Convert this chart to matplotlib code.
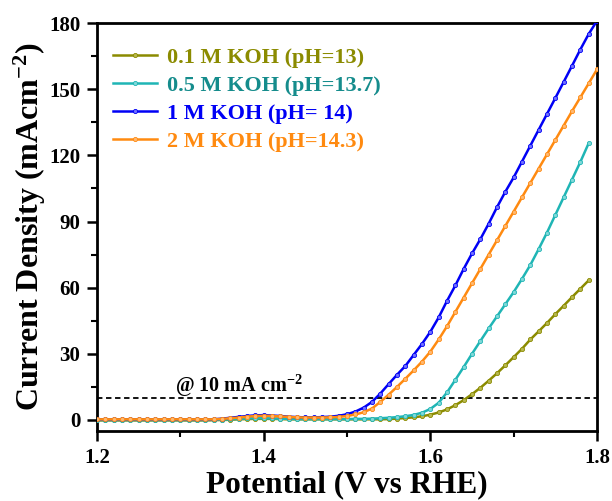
import matplotlib
matplotlib.use("Agg")
import matplotlib.pyplot as plt
from matplotlib.ticker import MultipleLocator

potential = [round(1.20 + 0.01 * i, 2) for i in range(61)]

# 1 M KOH (pH=14), 1.20 .. 1.80
j_1M = [0.3, 0.3, 0.3, 0.3, 0.3, 0.3, 0.3, 0.3, 0.3, 0.3,
        0.3, 0.3, 0.3, 0.3, 0.3, 0.6, 1.0, 1.4, 1.8, 2.1,
        2.2, 2.0, 1.8, 1.5, 1.3, 1.2, 1.2, 1.3, 1.5, 1.9,
        2.6, 3.8, 5.6, 8.2, 12.0, 16.3, 20.5, 24.5, 29.5, 34.5,
        40.0, 46.5, 54.0, 61.0, 68.5, 75.5, 82.0, 89.0, 96.5, 103.5,
        110.0, 117.2, 124.4, 131.6, 138.8, 146.0, 153.3, 160.6, 168.0, 175.0,
        181.0]

# 2 M KOH (pH=14.3), 1.20 .. 1.80
j_2M = [0.3, 0.3, 0.3, 0.3, 0.3, 0.3, 0.3, 0.3, 0.3, 0.3,
        0.3, 0.3, 0.3, 0.3, 0.3, 0.5, 0.8, 1.1, 1.5, 1.8,
        1.9, 1.8, 1.6, 1.4, 1.2, 1.1, 1.1, 1.1, 1.2, 1.4,
        1.8, 2.5, 3.5, 5.2, 8.2, 11.5, 15.0, 18.7, 22.5, 26.5,
        31.0, 36.5, 42.5, 49.0, 55.5, 62.0, 68.5, 75.0, 81.5, 88.0,
        94.5, 101.0, 107.5, 114.0, 120.5, 127.0, 133.5, 140.0, 146.3, 152.6,
        159.0]

# 0.5 M KOH (pH=13.7), 1.20 .. 1.79
j_05M = [0.0, 0.0, 0.0, 0.0, 0.0, 0.0, 0.0, 0.0, 0.0, 0.0,
         0.0, 0.0, 0.0, 0.0, 0.1, 0.2, 0.3, 0.5, 0.7, 0.8,
         0.8, 0.7, 0.6, 0.5, 0.4, 0.4, 0.4, 0.4, 0.4, 0.4,
         0.4, 0.5, 0.5, 0.6, 0.8, 1.0, 1.3, 1.7, 2.3, 3.3,
         5.0, 7.8, 12.5, 18.2, 24.0, 30.0, 35.8, 41.5, 47.0, 52.5,
         58.0, 64.0, 70.3, 77.5, 85.0, 93.0, 101.0, 109.0, 117.0, 125.5]

# 0.1 M KOH (pH=13), 1.20 .. 1.79
j_01M = [-0.2, -0.2, -0.2, -0.2, -0.2, -0.2, -0.2, -0.2, -0.2, -0.2,
         -0.2, -0.2, -0.2, -0.2, -0.1, 0.0, 0.1, 0.3, 0.4, 0.5,
         0.5, 0.5, 0.4, 0.3, 0.3, 0.3, 0.3, 0.3, 0.3, 0.3,
         0.3, 0.3, 0.3, 0.3, 0.3, 0.4, 0.6, 0.9, 1.2, 1.7,
         2.4, 3.4, 4.8, 6.7, 9.0, 11.7, 14.6, 17.8, 21.2, 24.8,
         28.5, 32.3, 36.5, 40.2, 44.0, 48.0, 51.8, 55.7, 59.5, 63.3]

labels = ["0.1 M KOH (pH=13)", "0.5 M KOH (pH=13.7)", "1 M KOH (pH= 14)", "2 M KOH (pH=14.3)"]
series = [j_01M, j_05M, j_1M, j_2M]
line_colors = ["#8B8B00", "#1FB5B5", "#0000F5", "#FF8A10"]
face_colors = ["#B8B850", "#80D8D8", "#7070FF", "#FFB870"]
text_colors = ["#8B8B00", "#158C8C", "#0000F5", "#FF8A10"]

plt.rcParams['font.family'] = ['Liberation Serif', 'DejaVu Serif']
plt.rcParams['font.weight'] = 'bold'
plt.rcParams['mathtext.fontset'] = 'custom'
plt.rcParams['mathtext.rm'] = 'Liberation Serif:bold'
plt.rcParams['mathtext.bf'] = 'Liberation Serif:bold'
plt.rcParams['mathtext.default'] = 'bf'

fig = plt.figure(figsize=(6.12, 5.01), dpi=100)
ax = fig.add_axes([0.1585, 0.1397, 0.8170, 0.8143])

ax.axhline(10, color='black', linestyle=(0, (3, 2)), linewidth=1.3, zorder=1)

handles = []
for vals, lab, lc, fc in zip(series, labels, line_colors, face_colors):
    x = potential[:len(vals)]
    h, = ax.plot(x, vals, color=lc, linewidth=1.8, marker='o', markersize=3.0,
                 markerfacecolor=fc, markeredgecolor=lc, markeredgewidth=0.6,
                 label=lab, zorder=3, clip_on=True)
    handles.append(h)

ax.set_xlim(1.2, 1.8)
ax.set_ylim(-5, 180)
ax.xaxis.set_minor_locator(MultipleLocator(0.1))
ax.yaxis.set_major_locator(MultipleLocator(30))
ax.yaxis.set_minor_locator(MultipleLocator(15))
ax.set_xticks([1.2, 1.4, 1.6, 1.8])
ax.set_xticklabels(["1.2", "1.4", "1.6", "1.8"])
ax.tick_params(which='major', direction='out', length=7, width=1.8, labelsize=15, pad=5)
ax.tick_params(which='minor', direction='out', length=4, width=1.5)
ax.tick_params(top=False, right=False)
for lbl in ax.get_xticklabels() + ax.get_yticklabels():
    lbl.set_fontweight('bold')
for s in ax.spines.values():
    s.set_linewidth(2.0)

ax.set_xlabel("Potential (V vs RHE)", fontsize=22.5, fontweight='bold', labelpad=2)
ax.set_ylabel("Current Density (mAcm$^{-2}$)", fontsize=23, fontweight='bold', labelpad=1)

ax.text(1.2936, 12.8, "@ 10 mA cm$^{-2}$", fontsize=14.5, fontweight='bold', color='black')

leg = ax.legend(handles=handles, loc='upper left', frameon=False, numpoints=1,
                prop={'size': 16, 'weight': 'bold'}, handlelength=2.0,
                handletextpad=0.45, labelspacing=0.33, borderaxespad=0.0,
                bbox_to_anchor=(0.014, 0.962))
for t, c in zip(leg.get_texts(), text_colors):
    t.set_color(c)

fig.savefig("out.png", dpi=100)
